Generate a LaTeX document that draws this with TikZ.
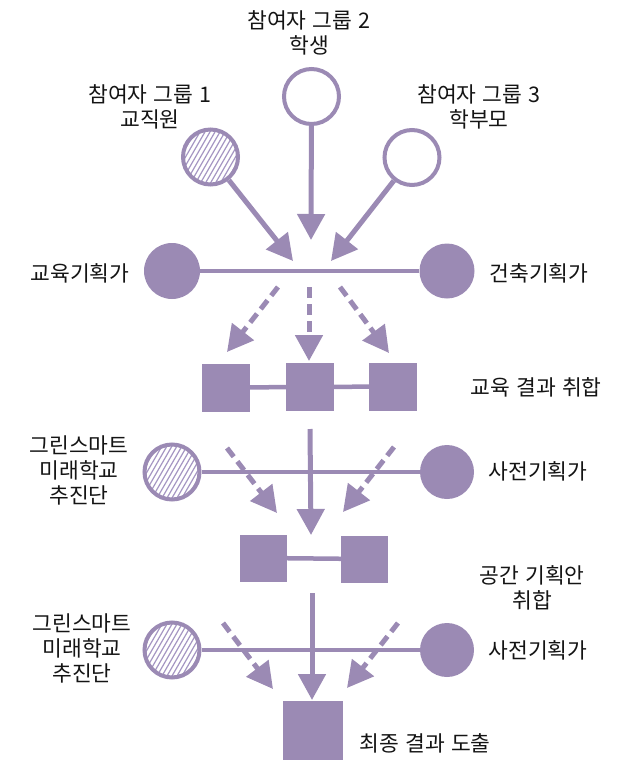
\documentclass[tikz,border=0pt]{standalone}
\usepackage{fontspec}
\setmainfont[WordSpace=1.3]{Noto Sans CJK KR}
\usetikzlibrary{arrows.meta,calc}
\definecolor{pu}{RGB}{155,138,180}
\definecolor{hatchc}{RGB}{165,150,195}
\begin{document}
\begin{tikzpicture}[x=1pt,y=-1pt,
  lbl/.style={font=\fontsize{21.5}{25}\selectfont, align=center, inner sep=0pt, text=black!92},
  pring/.style={circle, draw=pu, line width=4pt, fill=white, minimum size=55pt, inner sep=0pt},
  hatched/.style={pring, path picture={\foreach \k in {-45,-40,...,45}{\draw[hatchc, line width=1.2pt] ($(path picture bounding box.center)+(\k,0)+(120:40)$) -- ++(-60:80);}}},
  fdot/.style={circle, fill=pu, minimum size=56pt, inner sep=0pt},
  sq/.style={fill=pu, minimum size=48pt, inner sep=0pt},
  link/.style={draw=pu, line width=4.5pt},
  arr/.style={draw=pu, line width=5pt, -{Triangle[length=26pt,width=27pt]}},
  darr/.style={arr, dash pattern=on 11pt off 6pt},
]
\useasboundingbox (0,0) rectangle (621,760);

% participant groups
\node[pring] (g2) at (311.5,96.5) {};
\node[hatched] (g1) at (210.5,157) {};
\node[pring] (g3) at (412,157.5) {};
\node[lbl] (t2) at (309,32.5) {참여자 그룹 2\\학생};
\node[lbl] (t1) at (150,106.5) {참여자 그룹 1\\교직원};
\node[lbl] (t3) at (479,106.5) {참여자 그룹 3\\학부모};

% row 1
\node[fdot] (e1) at (172,271) {};
\node[fdot, minimum size=55pt] (a1) at (447,271) {};
\draw[link] (e1) -- (a1);
\node[lbl] (te1) at (80,273) {교육기획가};
\node[lbl] (ta1) at (539,273) {건축기획가};

\coordinate (m1) at (311,240);
\coordinate (l1) at (293,261);
\coordinate (r1) at (331,261);
\draw[arr] (g2) -- (m1);
\draw[arr] (g1) -- (l1);
\draw[arr] (g3) -- (r1);

\coordinate (dl1s) at (278,287); \coordinate (dl1e) at (227,352);
\coordinate (dm1s) at (309,287); \coordinate (dm1e) at (309,361);
\coordinate (dr1s) at (340,287); \coordinate (dr1e) at (389,353);
\draw[darr] (dl1s) -- (dl1e);
\draw[darr] (dm1s) -- (dm1e);
\draw[darr] (dr1s) -- (dr1e);

\node[sq] (s11) at (226,387.5) {};
\node[sq] (s12) at (310,387) {};
\node[sq] (s13) at (393,386.5) {};
\draw[link] (s11) -- (s12);
\draw[link] (s12) -- (s13);
\node[lbl] (ts1) at (536,387) {교육 결과 취합};

% row 2
\node[hatched] (h2) at (172,472) {};
\node[fdot, minimum size=54pt] (p2) at (447,472) {};
\draw[link] (h2) -- (p2);
\node[lbl] (th2) at (79,470) {그린스마트\\미래학교\\추진단};
\node[lbl] (tp2) at (538,471) {사전기획가};

\coordinate (v2s) at (310,429); \coordinate (v2e) at (311,535);
\draw[arr] (v2s) -- (v2e);
\coordinate (dl2s) at (227,448); \coordinate (dl2e) at (277,513);
\coordinate (dr2s) at (394,447); \coordinate (dr2e) at (343,512);
\draw[darr] (dl2s) -- (dl2e);
\draw[darr] (dr2s) -- (dr2e);

\node[sq, minimum size=47pt] (s21) at (263.5,558) {};
\node[sq, minimum size=47pt] (s22) at (364.5,559) {};
\draw[link] (s21) -- (s22);
\node[lbl] (ts2) at (532,587.5) {공간 기획안\\취합};

% row 3
\node[hatched] (h3) at (172,650) {};
\node[fdot, minimum size=54pt] (p3) at (447,650) {};
\draw[link] (h3) -- (p3);
\node[lbl] (th3) at (82,648) {그린스마트\\미래학교\\추진단};
\node[lbl] (tp3) at (538,650) {사전기획가};

\coordinate (v3s) at (312,593); \coordinate (v3e) at (312,700);
\draw[arr] (v3s) -- (v3e);
\coordinate (dl3s) at (223,623); \coordinate (dl3e) at (273,689);
\coordinate (dr3s) at (398,623); \coordinate (dr3e) at (347,688);
\draw[darr] (dl3s) -- (dl3e);
\draw[darr] (dr3s) -- (dr3e);

\node[sq, minimum size=60pt] (fin) at (313,731) {};
\node[lbl] (tfin) at (425,743) {최종 결과 도출};
\end{tikzpicture}
\end{document}
